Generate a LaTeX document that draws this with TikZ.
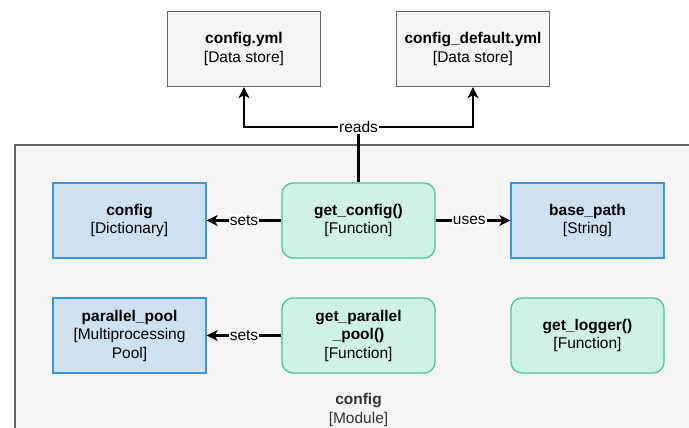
\documentclass[tikz,border=0pt]{standalone}
\usepackage{fontspec}
\setmainfont{Liberation Sans}
\usetikzlibrary{arrows.meta}
\definecolor{storefill}{HTML}{F5F5F5}
\definecolor{storeline}{HTML}{666666}
\definecolor{varfill}{RGB}{205,225,240}
\definecolor{varline}{RGB}{52,152,219}
\definecolor{fnfill}{RGB}{208,242,228}
\definecolor{fnline}{RGB}{67,196,163}
\definecolor{subtext}{HTML}{333333}
\tikzset{
  x=1pt, y=-1pt,
  base/.style={minimum width=153pt, minimum height=75pt, align=center,
    font=\fontsize{15.5}{18.5}\selectfont, text=black, line width=1.3pt},
  storebox/.style={base, draw=storeline, fill=storefill},
  varbox/.style={base, draw=varline, fill=varfill},
  fnbox/.style={base, draw=fnline, fill=fnfill, rounded corners=11pt},
  arr/.style={line width=2.6pt, -{Stealth[length=11pt, width=11pt, inset=3pt]}},
  lbl/.style={fill=white, inner sep=1pt, font=\fontsize{15.5}{18}\selectfont},
}
\begin{document}
\begin{tikzpicture}
\useasboundingbox (0,0) rectangle (689,428);
% enclosing module
\path[fill=storefill, draw=storeline, line width=1.3pt] (15,145) -- (700,145) -- (700,440) -- (15,440) -- cycle;
\node[font=\fontsize{15.5}{18.5}\selectfont, align=center, text=subtext] (module) at (358.5,410)
  {\textbf{config}\\{[Module]}};

% data stores
\node[storebox] (yml) at (244,49) {\textbf{config.yml}\\{[Data store]}};
\node[storebox] (dyml) at (473,49) {\textbf{config\_default.yml}\\{[Data store]}};

% first row
\node[varbox] (cfg) at (129.5,220.5) {\textbf{config}\\{[Dictionary]}};
\node[fnbox] (gc) at (358.5,220.5) {\textbf{get\_config()}\\{[Function]}};
\node[varbox] (bp) at (587.5,220.5) {\textbf{base\_path}\\{[String]}};

% second row
\node[varbox] (pp) at (129.5,335.5) {\textbf{parallel\_pool}\\{[Multiprocessing}\\{Pool]}};
\node[fnbox] (gpp) at (358.5,335.5) {\textbf{get\_parallel}\\\textbf{\_pool()}\\{[Function]}};
\node[fnbox] (gl) at (587.5,335.5) {\textbf{get\_logger()}\\{[Function]}};

% connectors
\coordinate (split) at (358.5,127);
\draw[line width=2.6pt] (gc.north) -- (split);
\draw[arr] (split) -| (yml.south);
\draw[arr] (split) -| (dyml.south);
\node[lbl] (reads) at (split) {reads};

\draw[arr] (gc.west) -- node[lbl, pos=0.5] (sets1) {sets} (cfg.east);
\draw[arr] (gc.east) -- node[lbl, pos=0.45] (uses) {uses} (bp.west);
\draw[arr] (gpp.west) -- node[lbl, pos=0.5] (sets2) {sets} (pp.east);
\end{tikzpicture}
\end{document}
